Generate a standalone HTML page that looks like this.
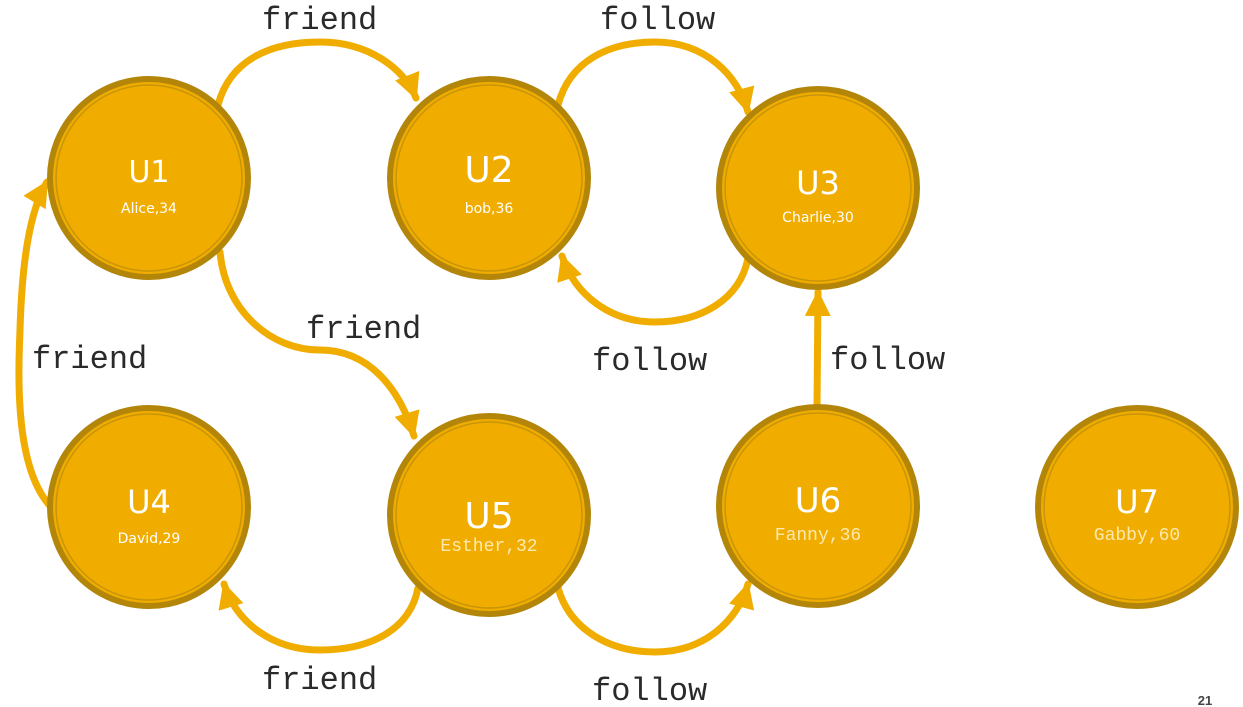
<!DOCTYPE html>
<html><head><style>
html,body{margin:0;padding:0;background:#fff;}
svg{display:block}
.e{fill:none;stroke:#f0ad00;stroke-width:7;stroke-linecap:round}
.lbl{font-family:"Liberation Mono",monospace;font-size:32px;fill:#2a2a2a}
.t{font-family:"DejaVu Sans","Liberation Sans",sans-serif;fill:#fff;text-anchor:middle}
.m{font-family:"Liberation Mono",monospace;fill:#fde9b0;text-anchor:middle;font-size:18px}
</style></head><body>
<svg width="1243" height="707" viewBox="0 0 1243 707" xmlns="http://www.w3.org/2000/svg">
<defs>
<marker id="a" markerUnits="userSpaceOnUse" markerWidth="32" markerHeight="32" refX="24" refY="13" orient="auto">
<path d="M0,0 L26,13 L0,26 Z" fill="#f0ad00"/>
</marker>
<g id="c">
<circle r="99" fill="#f0ad00" stroke="#b3860a" stroke-width="6"/>
<circle r="93" fill="none" stroke="#c8940a" stroke-width="1.5"/>
</g>
</defs>
<path class="e" d="M218,105 C230,60 270,42 320,42 C370,42 405,70 416,98" marker-end="url(#a)"/>
<path class="e" d="M558,105 C570,60 610,42 655,42 C705,42 738,75 748,112" marker-end="url(#a)"/>
<path class="e" d="M748,258 C740,300 700,322 655,322 C610,322 575,295 562,256" marker-end="url(#a)"/>
<path class="e" d="M220,252 C225,310 270,350 320,350 C370,350 400,390 414,436" marker-end="url(#a)"/>
<path class="e" d="M52,508 C15,470 18,380 20,330 C22,260 30,210 47,182" marker-end="url(#a)"/>
<path class="e" d="M418,588 C410,630 370,650 320,650 C270,650 235,620 224,584" marker-end="url(#a)"/>
<path class="e" d="M558,588 C570,630 610,652 655,652 C705,652 738,620 748,584" marker-end="url(#a)"/>
<path class="e" d="M817,408 L818,292" marker-end="url(#a)"/>
<use href="#c" x="149" y="178"/>
<use href="#c" x="489" y="178"/>
<use href="#c" x="818" y="188"/>
<use href="#c" x="149" y="507"/>
<use href="#c" x="489" y="515"/>
<use href="#c" x="818" y="506"/>
<use href="#c" x="1137" y="507"/>
<text class="t" x="149" y="182" font-size="30">U1</text>
<text class="t" x="149" y="213" font-size="14">Alice,34</text>
<text class="t" x="489" y="182" font-size="36">U2</text>
<text class="t" x="489" y="213" font-size="14">bob,36</text>
<text class="t" x="818" y="194" font-size="32">U3</text>
<text class="t" x="818" y="222" font-size="14">Charlie,30</text>
<text class="t" x="149" y="513" font-size="32">U4</text>
<text class="t" x="149" y="543" font-size="14">David,29</text>
<text class="t" x="489" y="528" font-size="36">U5</text>
<text class="m" x="489" y="551">Esther,32</text>
<text class="t" x="818" y="512" font-size="34">U6</text>
<text class="m" x="818" y="540">Fanny,36</text>
<text class="t" x="1137" y="513" font-size="32">U7</text>
<text class="m" x="1137" y="540">Gabby,60</text>
<text class="lbl" x="262" y="29">friend</text>
<text class="lbl" x="600" y="29">follow</text>
<text class="lbl" x="306" y="338">friend</text>
<text class="lbl" x="32" y="368">friend</text>
<text class="lbl" x="592" y="370">follow</text>
<text class="lbl" x="830" y="369">follow</text>
<text class="lbl" x="262" y="689">friend</text>
<text class="lbl" x="592" y="700">follow</text>
<text x="1205" y="705" font-family="Liberation Sans,sans-serif" font-size="13" font-weight="bold" fill="#444" text-anchor="middle">21</text>
</svg>
</body></html>
